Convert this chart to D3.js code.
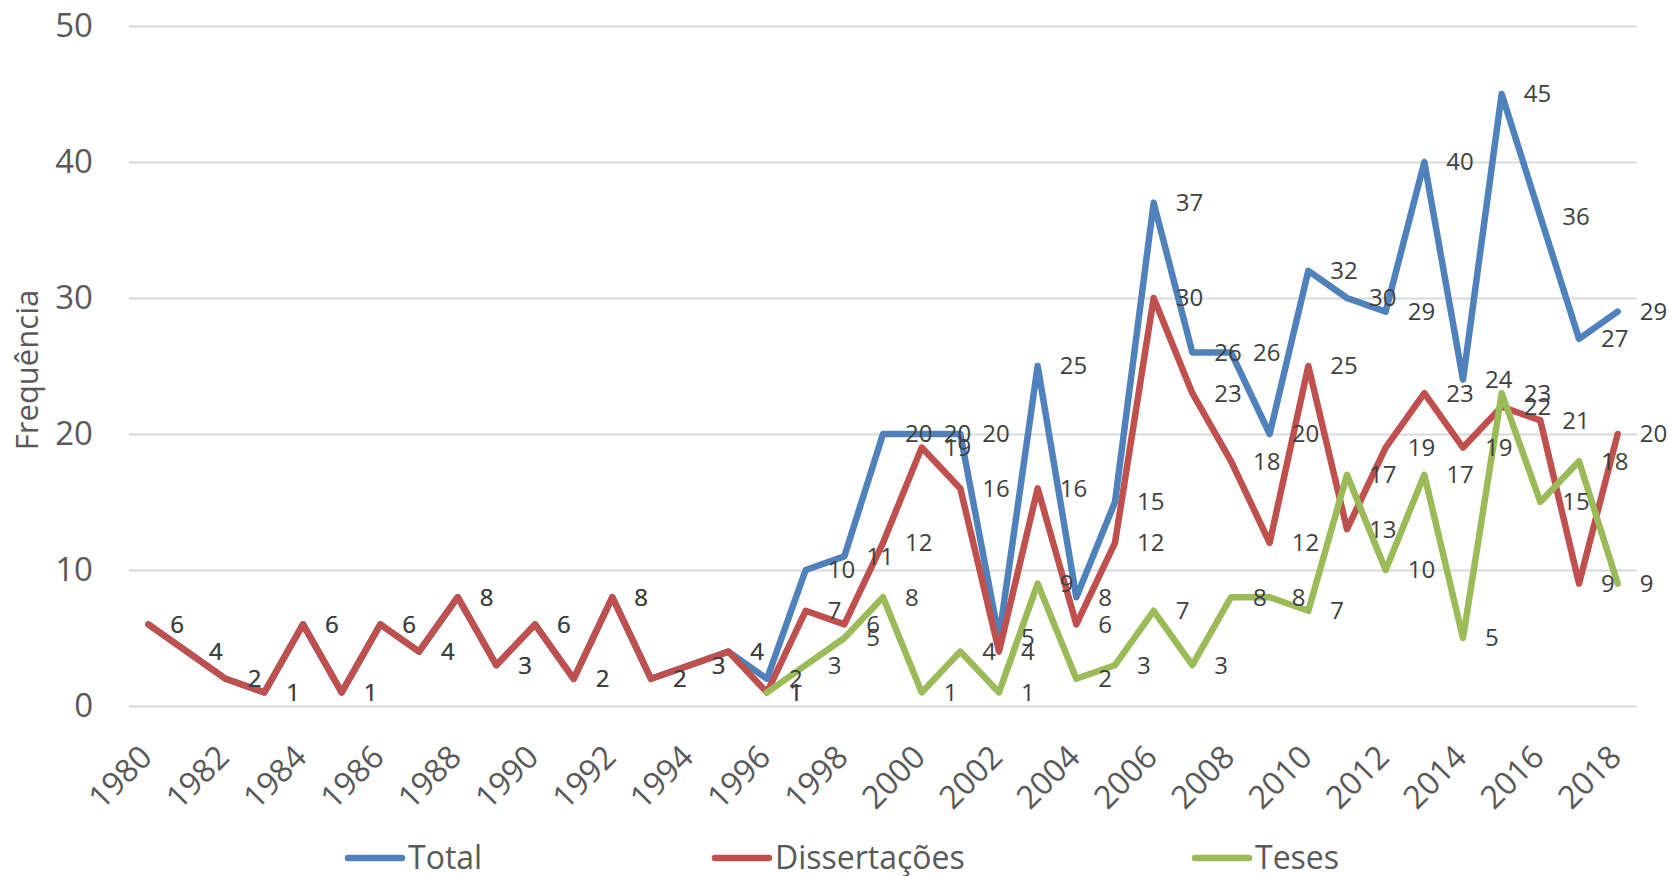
<!DOCTYPE html>
<html>
<head>
<meta charset="utf-8">
<script src="https://cdn.jsdelivr.net/npm/d3@7"></script>
<style>
  html, body { margin: 0; padding: 0; background: #fff; }
  svg { display: block; font-family: "Open Sans", "Noto Sans", sans-serif; }
</style>
</head>
<body>
<svg id="chart" width="1669" height="876"></svg>
<script>
// anos 1980..2018
var years = [1980,1981,1982,1983,1984,1985,1986,1987,1988,1989,1990,1991,1992,1993,1994,1995,1996,1997,1998,1999,
	2000,2001,2002,2003,2004,2005,2006,2007,2008,2009,2010,2011,2012,2013,2014,2015,2016,2017,2018];
var totalVals = [6,4,2,1,6,1,6,4,8,3,6,2,8,2,3,4,2,10,11,20,
	20,20,5,25,8,15,37,26,26,20,32,30,29,40,24,45,36,27,29];
var dissVals = [6,4,2,1,6,1,6,4,8,3,6,2,8,2,3,4,1,7,6,12,
	19,16,4,16,6,12,30,23,18,12,25,13,19,23,19,22,21,9,20];
var tesesVals = [null,null,null,null,null,null,null,null,null,null,null,null,null,null,null,null,1,3,5,8,
	1,4,1,9,2,3,7,3,8,8,7,17,10,17,5,23,15,18,9];
var seriesNames = ["Total", "Dissertações", "Teses"];
var yTicks = [0,10,20,30,40,50];
var xTicks = [1980,1982,1984,1986,1988,1990,1992,1994,1996,1998,2000,2002,2004,2006,2008,2010,2012,2014,2016,2018];

var colors = ["#4F81BD", "#C0504D", "#9BBB59"];
var series = [totalVals, dissVals, tesesVals].map(function(vals, i){
	return {
		name: seriesNames[i],
		color: colors[i],
		points: years.map(function(yr, j){ return {year: yr, value: vals[j]}; })
	};
});

var svg = d3.select("#chart");
var plotL = 129, plotR = 1637, plotT = 26, plotB = 706;

var x = d3.scalePoint().domain(years).range([plotL, plotR]).padding(0.5);
var y = d3.scaleLinear().domain([0, 50]).range([plotB, plotT]);

// grade + eixo y
var yAxis = svg.append("g").attr("transform", "translate(" + plotL + ",0)")
	.call(d3.axisLeft(y).tickValues(yTicks).tickSize(-(plotR - plotL)).tickPadding(36));
yAxis.select(".domain").remove();
yAxis.selectAll(".tick line").attr("stroke", "#D9D9D9").attr("stroke-width", 2);
yAxis.selectAll(".tick text")
	.attr("fill", "#595959")
	.attr("font-size", 33)
	.attr("font-family", "Open Sans");

// eixo x (rótulos a -45°)
var xAxis = svg.append("g").attr("transform", "translate(0," + plotB + ")")
	.call(d3.axisBottom(x).tickValues(xTicks).tickSize(0));
xAxis.select(".domain").remove();
xAxis.selectAll(".tick text")
	.attr("fill", "#595959")
	.attr("font-size", 32)
	.attr("font-family", "Open Sans")
	.attr("text-anchor", "end")
	.attr("dy", null)
	.attr("y", 0)
	.attr("transform", "translate(5,53) rotate(-45)");

// linhas
var line = d3.line()
	.defined(function(d){ return d.value != null; })
	.x(function(d){ return x(d.year); })
	.y(function(d){ return y(d.value); });

svg.append("g").selectAll("path").data(series).enter().append("path")
	.attr("d", function(d){ return line(d.points); })
	.attr("fill", "none")
	.attr("stroke", function(d){ return d.color; })
	.attr("stroke-width", 6.5)
	.attr("stroke-linejoin", "round")
	.attr("stroke-linecap", "round");

// rótulos de dados (à direita)
var labels = svg.append("g");
series.forEach(function(s){
	labels.selectAll(null)
		.data(s.points.filter(function(d){ return d.value != null; }))
		.enter().append("text")
		.attr("x", function(d){ return x(d.year) + 22; })
		.attr("y", function(d){ return y(d.value); })
		.attr("dy", "0.35em")
		.attr("fill", "#404040")
		.attr("font-size", 24)
		.text(function(d){ return d.value; });
});

// título eixo y
svg.append("text")
	.attr("transform", "translate(38,370) rotate(-90)")
	.attr("text-anchor", "middle")
	.attr("fill", "#595959")
	.attr("font-size", 31)
	.text("Frequência");

// legenda
var legendX = [348, 715, 1195];
var leg = svg.append("g");
series.forEach(function(s, i){
	var g = leg.append("g").attr("transform", "translate(" + legendX[i] + ",858)");
	g.append("line").attr("x1", 0).attr("x2", 54).attr("y1", 0).attr("y2", 0)
		.attr("stroke", s.color).attr("stroke-width", 6.5).attr("stroke-linecap", "round");
	g.append("text").attr("x", 60).attr("y", 11)
		.attr("fill", "#595959").attr("font-size", 32)
		.text(s.name);
});
</script>
</body>
</html>
